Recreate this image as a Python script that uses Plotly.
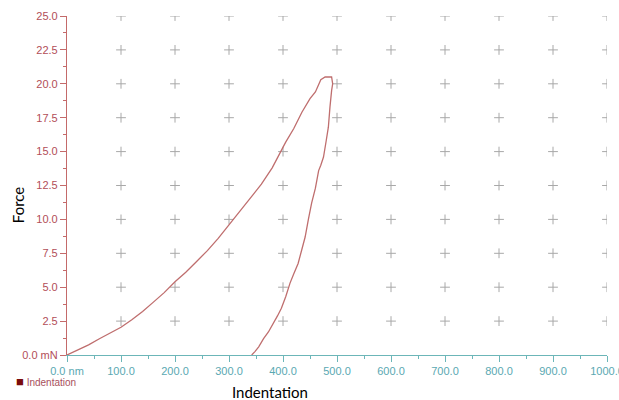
import plotly.graph_objects as go

# ---- data ----
load_x = [0, 20, 40, 60, 80, 100, 120, 140, 160, 180, 200, 220, 240, 260, 280, 300, 320,
          340, 360, 380, 395, 405, 420, 435, 450, 460, 470, 478, 486, 490]
load_f = [0, 0.35, 0.75, 1.2, 1.6, 2.05, 2.6, 3.2, 3.9, 4.6, 5.4, 6.1, 6.9, 7.7, 8.6, 9.6, 10.6,
          11.6, 12.6, 13.8, 15.0, 15.7, 16.7, 17.9, 18.9, 19.4, 20.3, 20.5, 20.5, 20.5]
unload_x = [492, 490, 487, 484, 480, 475, 470, 466, 460, 453, 447, 441, 435, 428, 420, 413,
            405, 397, 390, 382, 373, 364, 355, 348, 342]
unload_f = [20.0, 19.5, 18.3, 16.8, 15.8, 14.6, 14.0, 13.6, 12.3, 11.2, 10.0, 8.7, 7.8, 6.75,
            6.0, 5.3, 4.3, 3.44, 2.9, 2.3, 1.7, 1.2, 0.6, 0.25, 0]

x_ticks = [0, 100, 200, 300, 400, 500, 600, 700, 800, 900, 1000]
x_labels = ["0.0 nm", "100.0", "200.0", "300.0", "400.0", "500.0", "600.0", "700.0",
            "800.0", "900.0", "1000.0"]
y_ticks = [0, 2.5, 5, 7.5, 10, 12.5, 15, 17.5, 20, 22.5, 25]
y_labels = ["0.0 mN", "2.5", "5.0", "7.5", "10.0", "12.5", "15.0", "17.5", "20.0", "22.5", "25.0"]

series_name = "Indentation"

# ---- figure ----
fig = go.Figure()

gx = [x for x in x_ticks[1:] for y in y_ticks[1:]]
gy = [y for x in x_ticks[1:] for y in y_ticks[1:]]
fig.add_trace(go.Scatter(
    x=gx, y=gy, mode="markers", showlegend=False, hoverinfo="skip",
    marker=dict(symbol="cross-thin", size=7, line=dict(color="#a8a8a8", width=1)),
))

fig.add_trace(go.Scatter(
    x=load_x + unload_x, y=load_f + unload_f, mode="lines", name=series_name,
    showlegend=False, line=dict(color="#bf6e6e", width=1.3),
))

tick_font = "Liberation Sans, Arial, sans-serif"
fig.update_layout(
    width=619, height=400,
    margin=dict(l=67, r=12, t=16, b=45, autoexpand=False),
    paper_bgcolor="white", plot_bgcolor="white",
    xaxis=dict(
        range=[0, 1000], showgrid=False, zeroline=False, automargin=False,
        showline=True, linecolor="#6cb6b8", linewidth=1.2,
        tickmode="array", tickvals=x_ticks, ticktext=x_labels,
        ticklabeloverflow="allow",
        ticks="outside", ticklen=6, tickcolor="#6cb6b8", tickwidth=1,
        tickfont=dict(family=tick_font, size=11, color="#5aa8b2"),
        minor=dict(dtick=50, ticks="outside", ticklen=3, tickcolor="#6cb6b8", showgrid=False),
    ),
    yaxis=dict(
        range=[0, 25], showgrid=False, zeroline=False, automargin=False,
        showline=True, linecolor="#c46a6a", linewidth=1.2,
        tickmode="array", tickvals=y_ticks, ticktext=y_labels,
        ticklabeloverflow="allow",
        ticks="outside", ticklen=6, tickcolor="#c46a6a", tickwidth=1,
        tickfont=dict(family=tick_font, size=11, color="#b24e58"),
        minor=dict(dtick=1.25, ticks="outside", ticklen=3, tickcolor="#c46a6a", showgrid=False),
    ),
    annotations=[
        dict(text="Force", xref="paper", yref="paper", x=-0.0907, y=0.442,
             textangle=-90, showarrow=False, xanchor="center", yanchor="middle",
             font=dict(family="Lato, sans-serif", size=15, color="black")),
        dict(text="Indentation", xref="paper", yref="paper", x=0.376, y=-0.108,
             showarrow=False, xanchor="center", yanchor="middle",
             font=dict(family="Lato, sans-serif", size=15, color="black")),
        dict(text="<span style='color:#7a0c0c;font-size:13px'>■</span> " + series_name,
             xref="paper", yref="paper", x=-0.099, y=-0.077,
             showarrow=False, xanchor="left", yanchor="middle",
             font=dict(family=tick_font, size=10, color="#a8505c")),
    ],
)

fig.write_html(
    "out.html",
    config={"displayModeBar": False},
    post_script="document.body.style.margin='0';document.body.style.overflow='hidden';",
)
